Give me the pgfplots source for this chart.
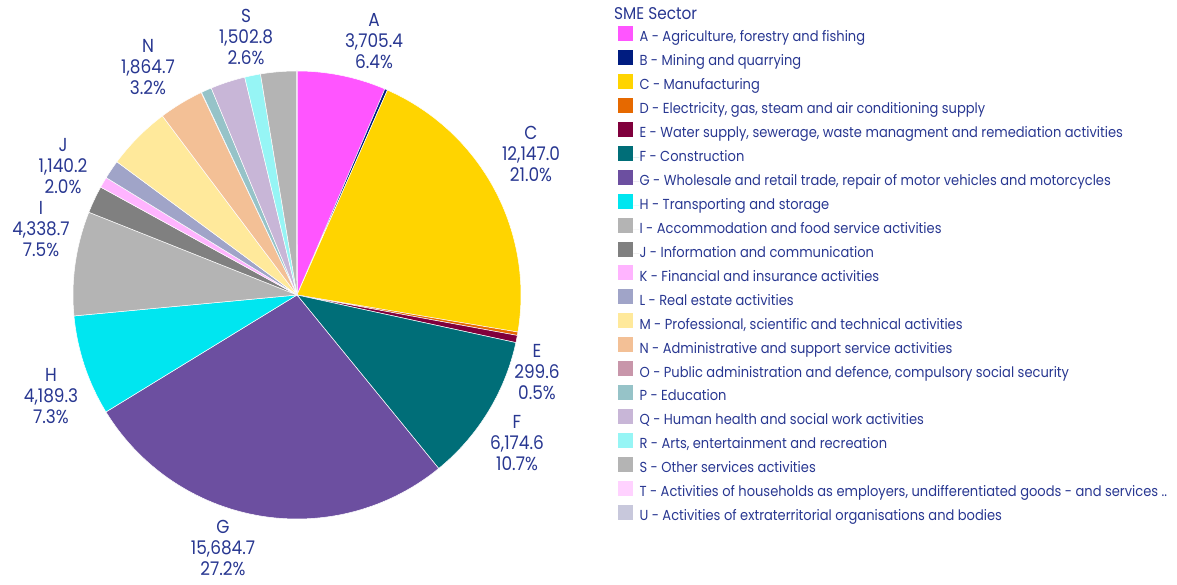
\documentclass[border=0pt]{standalone}
\usepackage{fontspec}
\setmainfont[FakeStretch=0.9]{Poppins}
\usepackage{pgfplots}
\pgfplotsset{compat=1.18}
\usepackage{pgfplotstable}
\definecolor{txtblue}{RGB}{40,55,145}
\definecolor{cA}{RGB}{255,85,255}
\definecolor{cB}{RGB}{0,28,128}
\definecolor{cC}{RGB}{255,212,0}
\definecolor{cD}{RGB}{230,105,0}
\definecolor{cE}{RGB}{128,0,60}
\definecolor{cF}{RGB}{0,110,120}
\definecolor{cG}{RGB}{108,79,160}
\definecolor{cH}{RGB}{0,230,240}
\definecolor{cI}{RGB}{180,180,180}
\definecolor{cJ}{RGB}{128,128,128}
\definecolor{cK}{RGB}{255,180,255}
\definecolor{cL}{RGB}{160,164,200}
\definecolor{cM}{RGB}{255,233,155}
\definecolor{cN}{RGB}{243,192,150}
\definecolor{cO}{RGB}{200,150,170}
\definecolor{cP}{RGB}{150,195,200}
\definecolor{cQ}{RGB}{200,182,215}
\definecolor{cR}{RGB}{150,245,245}
\definecolor{cS}{RGB}{180,180,180}
\definecolor{cT}{RGB}{255,210,255}
\definecolor{cU}{RGB}{200,200,220}
\pgfplotstableread{
sec val col
A 3705.4 cA
B 115 cB
C 12147.0 cC
D 140 cD
E 299.6 cE
F 6174.6 cF
G 15684.7 cG
H 4189.3 cH
I 4338.7 cI
J 1140.2 cJ
K 450 cK
L 785 cL
M 2660 cM
N 1864.7 cN
O 15 cO
P 435 cP
Q 1445 cQ
R 660 cR
S 1502.8 cS
T 2 cT
U 1 cU
}\pietable
% total of all values, in thousands
\def\pietotalk{57.755}
\newcommand\lblfont{\fontsize{18.8}{20.8}\selectfont}
\newcommand\legfont{\fontsize{14.5}{17}\selectfont}
\begin{document}
\begin{tikzpicture}
\begin{axis}[
  width=1177pt, height=585pt, scale only axis,
  xmin=0, xmax=1177, ymin=0, ymax=585,
  axis lines=none, clip=false,
  legend cell align=left,
  legend image code/.code={\fill[#1] (0pt,-3pt) rectangle (16pt,13pt); \path (16pt,0pt) -- (22pt,0pt);},
  legend style={at={(axis cs:617,560)}, anchor=north west, draw=none, fill=none,
    inner sep=0pt, outer sep=0pt, text=txtblue, font=\legfont,
    row sep=3.2pt,
    nodes={inner sep=0pt, text height=11pt, text depth=4pt}},
]
\path (axis cs:0,0) rectangle (axis cs:1177,585);
\def\s{90}
\pgfplotsforeachungrouped \i in {0,...,20}{%
  \pgfplotstablegetelem{\i}{val}\of\pietable \let\v\pgfplotsretval
  \pgfplotstablegetelem{\i}{col}\of\pietable \let\c\pgfplotsretval
  \pgfmathsetmacro\e{\s-(\v/\pietotalk)*0.36}%
  \edef\temp{\noexpand\addplot[fill=\c, draw=white, line width=0.5pt, domain=\e:\s, samples=60, variable=\noexpand\t]
    ({297+224*cos(\noexpand\t)},{290+224*sin(\noexpand\t)}) -- (axis cs:297,290) -- cycle;}%
  \temp
  \let\s\e
}
\legend{
{A - Agriculture, forestry and fishing},
{B - Mining and quarrying},
{C - Manufacturing},
{D - Electricity, gas, steam and air conditioning supply},
{E - Water supply, sewerage, waste managment and remediation activities},
{F - Construction},
{G - Wholesale and retail trade, repair of motor vehicles and motorcycles},
{H - Transporting and storage},
{I - Accommodation and food service activities},
{J - Information and communication},
{K - Financial and insurance activities},
{L - Real estate activities},
{M - Professional, scientific and technical activities},
{N - Administrative and support service activities},
{O - Public administration and defence, compulsory social security},
{P - Education},
{Q - Human health and social work activities},
{R - Arts, entertainment and recreation},
{S - Other services activities},
{T - Activities of households as employers, undifferentiated goods - and services ..},
{U - Activities of extraterritorial organisations and bodies}}
\node[anchor=west, text=txtblue, font=\fontsize{17}{19}\selectfont, inner sep=0pt] at (axis cs:614,571) {SME Sector};
\begin{scope}[every node/.style={align=center, text=txtblue, font=\lblfont, inner sep=0pt}]
\node at (axis cs:374,544) {A\\3,705.4\\6.4\%};
\node at (axis cs:531,431) {C\\12,147.0\\21.0\%};
\node at (axis cs:537,213) {E\\299.6\\0.5\%};
\node at (axis cs:517,142) {F\\6,174.6\\10.7\%};
\node at (axis cs:223,37) {G\\15,684.7\\27.2\%};
\node at (axis cs:51,189) {H\\4,189.3\\7.3\%};
\node at (axis cs:41,356) {I\\4,338.7\\7.5\%};
\node at (axis cs:63,419) {J\\1,140.2\\2.0\%};
\node at (axis cs:148,518) {N\\1,864.7\\3.2\%};
\node at (axis cs:246,548) {S\\1,502.8\\2.6\%};
\end{scope}
\end{axis}
\end{tikzpicture}
\end{document}
